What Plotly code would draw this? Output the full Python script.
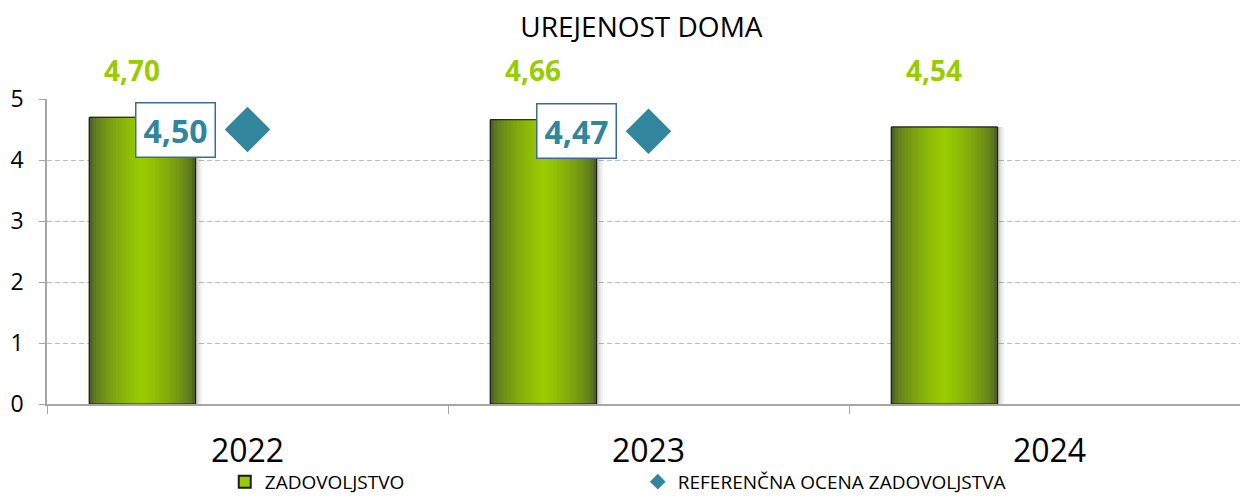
import plotly.graph_objects as go

years = ["2022", "2023", "2024"]
zadovoljstvo = [4.70, 4.66, 4.54]
referencna = [4.50, 4.47, None]
title = "UREJENOST DOMA"
name_bar = "ZADOVOLJSTVO"
name_ref = "REFERENČNA OCENA ZADOVOLJSTVA"
y_ticks = [0, 1, 2, 3, 4, 5]

FONT = "Open Sans"
W, H = 1242, 489          # page body has an 8px margin
ML, MR, MT, MB = 39, 10, 91, 93
PH = H - MT - MB
Y_MAX = 5
BAR_W = 0.265
BAR_C = -0.262  # bar centre offset inside the category
DARK = (79, 98, 40)
BRIGHT = (153, 204, 0)


def fmt(v):
    return f"{v:.2f}".replace(".", ",")


def mix(t):
    return "rgb(%d,%d,%d)" % tuple(round(d + (b - d) * t) for d, b in zip(DARK, BRIGHT))


fig = go.Figure()

# soft shadow on the right side of the bars
for dx, a in [(0.016, 0.05), (0.010, 0.08), (0.005, 0.10)]:
    fig.add_trace(go.Bar(
        x=years, y=zadovoljstvo, width=BAR_W, offset=BAR_C - BAR_W / 2 + dx,
        marker=dict(color=f"rgba(0,0,0,{a})", line=dict(width=0)),
        showlegend=False, hoverinfo="skip"))

# legend carrier (covered by gradient layers)
fig.add_trace(go.Bar(
    x=years, y=zadovoljstvo, width=BAR_W, offset=BAR_C - BAR_W / 2,
    name=name_bar, marker=dict(color="#99cc00", line=dict(color="#1a1a1a", width=1)),
    showlegend=True))

# gradient layers
n = 16
for k in range(n):
    w = BAR_W * (1 - k / n)
    t = (k / (n - 1)) ** 0.6
    fig.add_trace(go.Bar(
        x=years, y=zadovoljstvo, width=w, offset=BAR_C - w / 2,
        marker=dict(color=mix(t), line=dict(width=0)),
        showlegend=False, hoverinfo="skip"))

# outline
fig.add_trace(go.Bar(
    x=years, y=zadovoljstvo, width=BAR_W, offset=BAR_C - BAR_W / 2,
    marker=dict(color="rgba(0,0,0,0)", line=dict(color="#1a1a1a", width=1)),
    showlegend=False, hoverinfo="skip"))

fig.add_trace(go.Scatter(
    x=years, y=referencna, mode="markers", name=name_ref,
    marker=dict(symbol="diamond", size=35, color="#31859c", line=dict(width=0)),
    cliponaxis=False))

annotations = []
for i, v in enumerate(zadovoljstvo):
    annotations.append(dict(
        x=i, y=1 + 29 / PH, xref="x", yref="paper", text="<b>" + fmt(v) + "</b>",
        showarrow=False, xshift=(BAR_C * 401) - 10, yanchor="middle",
        font=dict(family=FONT, size=28, color="#99cc00")))
for i, v in enumerate(referencna):
    if v is None:
        continue
    annotations.append(dict(
        x=i, y=v, xref="x", yref="y", text="<b>" + fmt(v) + "</b>", showarrow=False,
        xshift=-72, yanchor="middle",
        font=dict(family=FONT, size=32, color="#31859c"),
        bgcolor="white", bordercolor="#3d6a9e", borderwidth=1.5,
        width=76, height=51, borderpad=1))

fig.update_layout(
    width=W, height=H,
    margin=dict(l=ML, r=MR, t=MT, b=MB, autoexpand=False),
    paper_bgcolor="white", plot_bgcolor="white",
    barmode="overlay",
    title=dict(text=title, x=0.51, xanchor="center", y=1 - 19 / H, yanchor="middle",
               font=dict(family=FONT, size=28, color="black")),
    xaxis=dict(type="category", range=[-0.5, 2.475], tickson="boundaries",
               ticks="outside", ticklen=8, tickcolor="#a6a6a6", tickwidth=1,
               showline=True, linecolor="#a6a6a6", linewidth=1.5,
               showgrid=False, ticklabelstandoff=18, automargin=False,
               tickfont=dict(family=FONT, size=32, color="black")),
    yaxis=dict(range=[0, Y_MAX], tickvals=y_ticks, ticks="outside", ticklen=6,
               tickcolor="#a6a6a6", showline=True, linecolor="#a6a6a6", linewidth=1.5,
               showgrid=True, gridcolor="#bcbcbc", griddash="5px,3px", gridwidth=1,
               zeroline=False, ticklabelstandoff=11, automargin=False,
               tickfont=dict(family=FONT, size=23, color="black")),
    legend=dict(orientation="h", x=0.149, xanchor="left", y=-0.255, yanchor="middle",
                entrywidth=368, entrywidthmode="pixels", itemsizing="constant",
                font=dict(family=FONT, size=19, color="black"), traceorder="normal"),
    annotations=annotations,
    showlegend=True,
)

fig.write_html("out.html")
